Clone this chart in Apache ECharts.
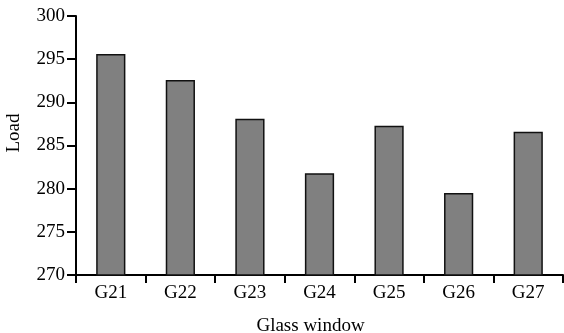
<!DOCTYPE html>
<html>
<head>
<meta charset="utf-8">
<script src="https://cdn.jsdelivr.net/npm/echarts@6/dist/echarts.min.js"></script>
<style>html,body{margin:0;padding:0;background:#fff}#c{width:564px;height:333px}</style>
</head>
<body>
<div id="c"></div>
<script>
const categories = ['G21', 'G22', 'G23', 'G24', 'G25', 'G26', 'G27'];
const loadValues = [295.6, 292.6, 288.1, 281.8, 287.3, 279.5, 286.6];
const yTicks = { min: 270, max: 300, interval: 5 };

const font = '"Liberation Serif", "Times New Roman", serif';
const chart = echarts.init(document.getElementById('c'), null, { renderer: 'canvas' });
chart.setOption({
  animation: false,
  backgroundColor: '#fff',
  grid: { left: 76, right: 1, top: 16, bottom: 58, containLabel: false, outerBoundsMode: 'none' },
  xAxis: {
    type: 'category',
    data: categories,
    name: 'Glass window',
    nameLocation: 'middle',
    nameGap: 42,
    nameTextStyle: { fontFamily: font, fontSize: 19, color: '#000', padding: [0, 18, 0, 0] },
    axisLine: { lineStyle: { color: '#000', width: 2 } },
    axisTick: { show: true, length: 8, lineStyle: { color: '#000', width: 2 } },
    axisLabel: { fontFamily: font, fontSize: 19, color: '#000', margin: 9 },
    splitLine: { show: false }
  },
  yAxis: {
    type: 'value',
    min: yTicks.min,
    max: yTicks.max,
    interval: yTicks.interval,
    name: 'Load',
    nameLocation: 'middle',
    nameGap: 52,
    nameTextStyle: { fontFamily: font, fontSize: 19, color: '#000', padding: [0, 0, 0, 25] },
    axisLine: { show: true, lineStyle: { color: '#000', width: 2 } },
    axisTick: { show: true, length: 9, lineStyle: { color: '#000', width: 2 } },
    axisLabel: { fontFamily: font, fontSize: 19, color: '#000', margin: 11 },
    splitLine: { show: false }
  },
  series: [{
    type: 'bar',
    data: loadValues,
    barWidth: '42%',
    itemStyle: { color: '#808080', borderColor: '#111', borderWidth: 1.5 }
  }]
});
</script>
</body>
</html>
